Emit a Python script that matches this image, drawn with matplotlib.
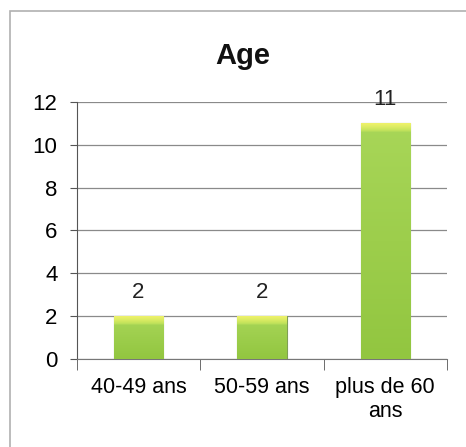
import numpy as np
import matplotlib
matplotlib.use('Agg')
import matplotlib.pyplot as plt
from matplotlib.patches import Rectangle
from matplotlib.colors import LinearSegmentedColormap

categories = ['40-49 ans', '50-59 ans', 'plus de 60\nans']
values = [2, 2, 11]
y_ticks = [0, 2, 4, 6, 8, 10, 12]

plt.rcParams['font.family'] = ['Liberation Sans', 'DejaVu Sans']

fig = plt.figure(figsize=(4.66, 4.47), dpi=100)
fig.patch.set_facecolor('white')

# outer chart frame (cut off at right and bottom like the scan)
fig.add_artist(Rectangle((0.021, -0.05), 1.1, 1.025, transform=fig.transFigure,
                         fill=False, edgecolor='#b0b0b0', linewidth=1.2))

ax = fig.add_axes([0.165, 0.197, 0.794, 0.575])
x = np.arange(len(categories))
bars = ax.bar(x, values, width=0.4, color='#a2d152', edgecolor='#7f9f55',
              linewidth=0.8, zorder=3)

# gradient fill: soft yellow band at the top, green below
cmap = LinearSegmentedColormap.from_list('g', [(0, '#92c640'), (0.6, '#a8d658'),
                                               (0.8, '#c6e45c'), (1, '#eef26a')])
for b, v in zip(bars, values):
    x0, y0 = b.get_x(), b.get_y()
    w, h = b.get_width(), b.get_height()
    ys = np.linspace(0, h, 300)
    band = np.clip((ys - (h - 0.4)) / 0.4, 0, 1) ** 0.5
    shade = np.where(band > 0, 0.6 + 0.4 * band, 0.6 * ys / h)
    im = ax.imshow(shade.reshape(-1, 1), extent=[x0, x0 + w, y0, y0 + h], origin='lower',
                   cmap=cmap, vmin=0, vmax=1, aspect='auto', zorder=3)
    im.set_clip_path(b)
    ax.text(x0 + w / 2, h + 0.6, str(v),
            ha='center', va='bottom', fontsize=16, color='#222222', zorder=4)

ax.set_xlim(-0.5, 2.5)
ax.set_ylim(0, 12)
ax.set_yticks(y_ticks)
ax.set_yticklabels([str(t) for t in y_ticks], fontsize=16)
ax.set_xticks(x)
ax.set_xticklabels(categories, fontsize=15.5, linespacing=1.2)
ax.set_xticks([-0.5, 0.5, 1.5, 2.5], minor=True)
ax.tick_params(axis='x', which='major', length=0, pad=13)
ax.tick_params(axis='x', which='minor', length=8, direction='out', color='#555555')
ax.tick_params(axis='y', length=5, direction='out', color='#555555', pad=9)
ax.yaxis.grid(True, color='#8a8a8a', linewidth=0.9, zorder=0)
ax.set_axisbelow(True)
for s in ['top', 'right']:
    ax.spines[s].set_visible(False)
ax.spines['left'].set_color('#555555')
ax.spines['bottom'].set_color('#777777')

fig.text(0.52, 0.875, 'Age', ha='center', va='center', fontsize=21,
         fontweight='bold', color='#111111')

fig.savefig('out.png', dpi=100)
